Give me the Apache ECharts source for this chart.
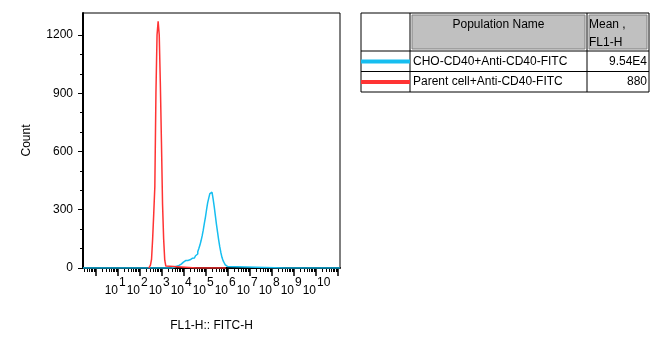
<!DOCTYPE html>
<html>
<head>
<meta charset="utf-8">
<script src="https://cdn.jsdelivr.net/npm/echarts@6/dist/echarts.min.js"></script>
<style>
html,body{margin:0;padding:0;background:#fff;}
#c{width:656px;height:351px;}
</style>
</head>
<body>
<div id="c"></div>
<script>
// ---- data (x in decades: value k means 10^k) ----
const decadeLabels = [1, 2, 3, 4, 5, 6, 7, 8, 9, 10];
const countTicks = [0, 300, 600, 900, 1200];

const redBins = [2.40, 2.45, 2.50, 2.55, 2.60, 2.65, 2.70, 2.75, 2.80, 2.85, 2.90, 2.95, 3.00, 3.05, 3.10, 3.15, 3.20, 3.25, 5.90];
const redCounts = [0, 3, 15, 45, 150, 280, 420, 900, 1200, 1270, 1200, 950, 650, 330, 150, 40, 10, 0, 0];

const blueBins = [-0.59, 3.45, 3.50, 3.55, 3.60, 3.65, 3.70, 3.75, 3.80, 3.85, 3.90, 3.95, 4.00, 4.05, 4.10, 4.15, 4.20, 4.25, 4.30, 4.35, 4.40, 4.45, 4.50, 4.55, 4.60, 4.65, 4.70, 4.75, 4.80, 4.85, 4.90, 4.95, 5.00, 5.05, 5.10, 5.15, 5.20, 5.25, 5.30, 5.35, 5.40, 5.45, 5.50, 5.55, 5.60, 5.65, 5.70, 5.75, 5.80, 5.85, 5.90, 5.95, 6.00, 6.05, 11.09];
const blueCounts = [0, 0, 2, 4, 7, 9, 11, 13, 15, 20, 25, 30, 32, 35, 38, 39, 40, 42, 44, 47, 50, 52, 56, 63, 72, 84, 100, 118, 140, 165, 195, 230, 262, 300, 335, 360, 383, 390, 385, 355, 315, 270, 225, 185, 145, 110, 80, 55, 38, 27, 16, 8, 3, 0, 0];

const populationNames = ['CHO-CD40+Anti-CD40-FITC', 'Parent cell+Anti-CD40-FITC'];
const meanValues = ['9.54E4', '880'];
const seriesColors = ['#16BEF0', '#FF3333'];
const headerNames = ['Population Name', 'Mean ,', 'FL1-H'];

// ---- axis tick helpers ----
const X_MIN = -0.59, X_MAX = 11.09;
const majorX = [];
const minorX = [];
for (let k = -1; k <= 11; k++) {
  if (k >= X_MIN && k <= X_MAX) majorX.push(k);
  for (let m = 2; m <= 9; m++) {
    const v = k + Math.log10(m);
    if (v > X_MIN && v < X_MAX) minorX.push(v);
  }
}
const minorY = [100, 200, 400, 500, 700, 800, 1000, 1100];

const FONT = 'Liberation Sans, Arial, sans-serif';

const chart = echarts.init(document.getElementById('c'));

const g = [];
// table geometry
const tL = 361, tR = 649, tT = 13, tH = 51, tM = 71.5, tB = 92, c1 = 410, c2 = 587;
g.push({type:'rect', shape:{x:tL, y:tT, width:tR-tL, height:tB-tT}, style:{fill:'#fff', stroke:'#000', lineWidth:1}});
g.push({type:'rect', shape:{x:c1+2, y:tT+2, width:c2-c1-4, height:tH-tT-4}, style:{fill:'#C0C0C0', stroke:'#808080', lineWidth:1}});
g.push({type:'rect', shape:{x:c2+2, y:tT+2, width:tR-c2-4, height:tH-tT-4}, style:{fill:'#C0C0C0', stroke:'#808080', lineWidth:1}});
g.push({type:'line', shape:{x1:c1, y1:tT, x2:c1, y2:tB}, style:{stroke:'#000', lineWidth:1}});
g.push({type:'line', shape:{x1:c2, y1:tT, x2:c2, y2:tB}, style:{stroke:'#000', lineWidth:1}});
g.push({type:'line', shape:{x1:tL, y1:tH, x2:tR, y2:tH}, style:{stroke:'#000', lineWidth:1}});
g.push({type:'line', shape:{x1:tL, y1:tM, x2:tR, y2:tM}, style:{stroke:'#000', lineWidth:1}});
g.push({type:'text', x:(c1+c2)/2, y:25, style:{text:headerNames[0], font:'12px '+FONT, fill:'#000', align:'center', verticalAlign:'middle'}});
g.push({type:'text', x:c2+2, y:25, style:{text:headerNames[1], font:'12px '+FONT, fill:'#000', align:'left', verticalAlign:'middle'}});
g.push({type:'text', x:c2+2, y:43, style:{text:headerNames[2], font:'12px '+FONT, fill:'#000', align:'left', verticalAlign:'middle'}});
const rowY = [61.5, 82];
populationNames.forEach((name, i) => {
  g.push({type:'line', shape:{x1:tL, y1:rowY[i], x2:c1, y2:rowY[i]}, style:{stroke:seriesColors[i], lineWidth:4}});
  g.push({type:'text', x:c1+3, y:rowY[i], style:{text:name, font:'12px '+FONT, fill:'#000', align:'left', verticalAlign:'middle'}});
  g.push({type:'text', x:tR-2, y:rowY[i], style:{text:meanValues[i], font:'12px '+FONT, fill:'#000', align:'right', verticalAlign:'middle'}});
});

const option = {
  animation: false,
  backgroundColor: '#fff',
  textStyle: {fontFamily: FONT},
  grid: {left: 83, right: 316, top: 13, bottom: 83, show: true, borderColor: '#000', borderWidth: 1, backgroundColor: 'transparent'},
  xAxis: [
    {
      type: 'value', min: X_MIN, max: X_MAX, position: 'bottom', offset: 0,
      axisLine: {show: true, onZero: false, lineStyle: {color: '#000', width: 2}},
      axisTick: {show: true, customValues: majorX, length: 8, lineStyle: {color: '#000', width: 1.5}},
      axisLabel: {show: true, customValues: decadeLabels, formatter: () => '10', align: 'right', margin: 17, color: '#000', fontSize: 12, fontFamily: FONT},
      splitLine: {show: false},
      name: 'FL1-H:: FITC-H', nameLocation: 'middle', nameGap: 52,
      nameTextStyle: {color: '#000', fontSize: 12, fontFamily: FONT}
    },
    {
      type: 'value', min: X_MIN, max: X_MAX, position: 'bottom', offset: 0,
      axisLine: {show: false, onZero: false},
      axisTick: {show: true, customValues: minorX, length: 4, lineStyle: {color: '#000', width: 1}},
      axisLabel: {show: true, customValues: decadeLabels, formatter: v => String(v), align: 'left', margin: 9, padding: [0,0,0,1], color: '#000', fontSize: 12, fontFamily: FONT},
      splitLine: {show: false}
    }
  ],
  yAxis: [
    {
      type: 'value', min: 0, max: 1313, position: 'left', offset: 0,
      axisLine: {show: true, onZero: false, lineStyle: {color: '#000', width: 2}},
      axisTick: {show: true, customValues: countTicks, length: 5, lineStyle: {color: '#000', width: 1}},
      axisLabel: {show: true, customValues: countTicks, formatter: v => String(v), margin: 10, color: '#000', fontSize: 12, fontFamily: FONT},
      splitLine: {show: false},
      name: 'Count', nameLocation: 'middle', nameGap: 50,
      nameTextStyle: {color: '#000', fontSize: 12, fontFamily: FONT}
    },
    {
      type: 'value', min: 0, max: 1313, position: 'left', offset: 0,
      axisLine: {show: false, onZero: false},
      axisTick: {show: true, customValues: minorY, length: 3, lineStyle: {color: '#000', width: 1}},
      axisLabel: {show: false},
      splitLine: {show: false}
    }
  ],
  series: [
    {
      name: populationNames[0], type: 'line', step: 'middle', showSymbol: false, xAxisIndex: 0, yAxisIndex: 0,
      data: blueBins.map((x, i) => [x, blueCounts[i]]),
      lineStyle: {color: seriesColors[0], width: 1.5}, itemStyle: {color: seriesColors[0]}, z: 2
    },
    {
      name: populationNames[1], type: 'line', step: 'middle', showSymbol: false, xAxisIndex: 0, yAxisIndex: 0,
      data: redBins.map((x, i) => [x, redCounts[i]]),
      lineStyle: {color: seriesColors[1], width: 1.5}, itemStyle: {color: seriesColors[1]}, z: 3
    }
  ],
  graphic: g
};
chart.setOption(option);
</script>
</body>
</html>
